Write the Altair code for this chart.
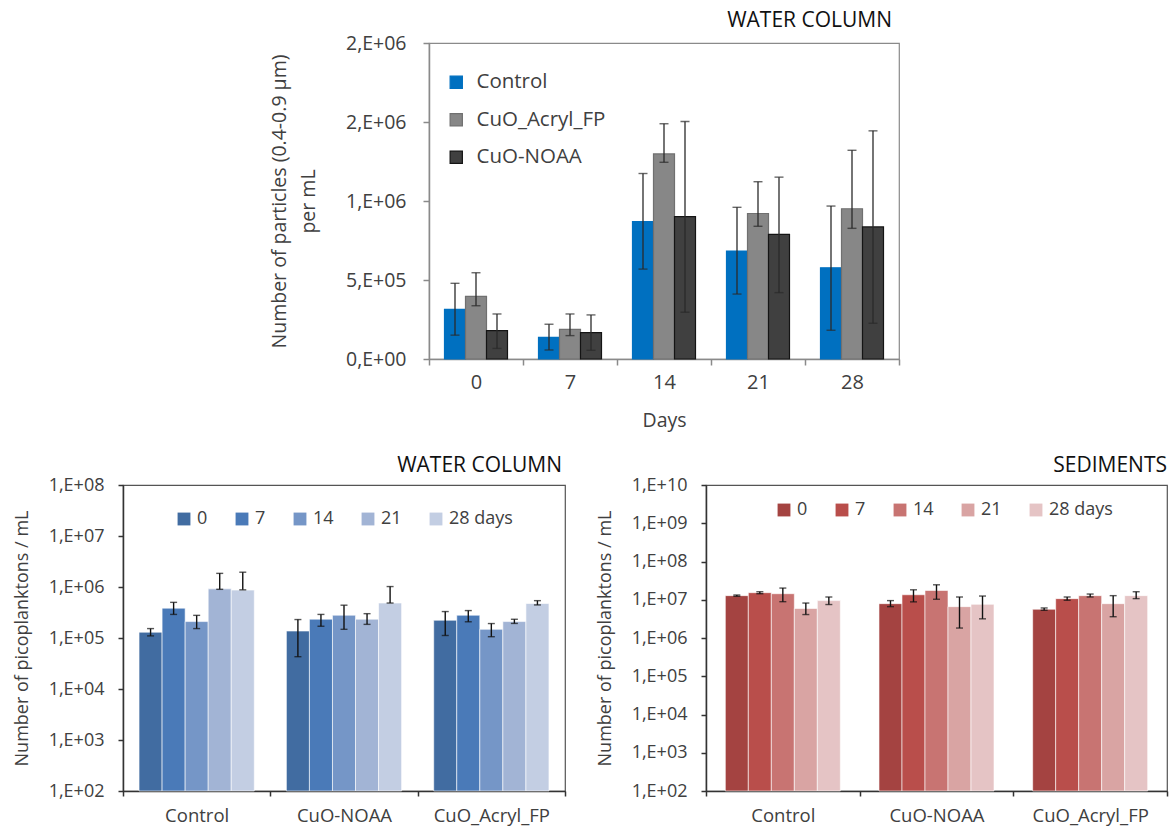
import altair as alt
import pandas as pd

FONT = "Open Sans"
TXT = "#404040"
AX = "#8a8a8a"

# ---------------- top panel data ----------------
days = ["0", "7", "14", "21", "28"]
top_series = ["Control", "CuO_Acryl_FP", "CuO-NOAA"]
top_fill = ["#0070C0", "#878787", "#404040"]
top_stroke = ["#0070C0", "#707070", "#141414"]

ctrl_val = [3.14e5, 1.37e5, 8.70e5, 6.83e5, 5.77e5]
ctrl_lo = [1.51e5, 0.57e5, 5.69e5, 4.11e5, 1.82e5]
ctrl_hi = [4.79e5, 2.20e5, 1.174e6, 9.60e5, 9.68e5]
acryl_val = [3.96e5, 1.87e5, 1.298e6, 9.21e5, 9.51e5]
acryl_lo = [3.37e5, 1.48e5, 1.245e6, 8.40e5, 8.27e5]
acryl_hi = [5.46e5, 2.85e5, 1.489e6, 1.122e6, 1.321e6]
noaa_val = [1.79e5, 1.67e5, 9.01e5, 7.89e5, 8.36e5]
noaa_lo = [0.67e5, 0.55e5, 2.96e5, 4.20e5, 2.26e5]
noaa_hi = [2.85e5, 2.79e5, 1.503e6, 1.151e6, 1.444e6]

top_ticks = [0, 5e5, 1e6, 1.5e6, 2e6]
top_tick_labels = ["0,E+00", "5,E+05", "1,E+06", "2,E+06", "2,E+06"]

# ---------------- bottom panels data ----------------
groups = ["Control", "CuO-NOAA", "CuO_Acryl_FP"]
day_labels = ["0", "7", "14", "21", "28 days"]
blues = ["#416CA1", "#4A7AB8", "#7596C7", "#A2B4D5", "#C3CEE3"]
reds = ["#A44341", "#B94E4B", "#C87472", "#D9A4A3", "#E5C4C5"]

wc_control_val = [1.30e5, 3.85e5, 2.10e5, 9.20e5, 8.70e5]
wc_control_lo = [1.10e5, 2.90e5, 1.53e5, 9.00e5, 8.80e5]
wc_control_hi = [1.53e5, 5.00e5, 2.78e5, 1.85e6, 1.95e6]
wc_noaa_val = [1.37e5, 2.34e5, 2.80e5, 2.34e5, 4.85e5]
wc_noaa_lo = [4.30e4, 1.70e5, 1.48e5, 1.85e5, 4.85e5]
wc_noaa_hi = [2.30e5, 2.90e5, 4.40e5, 3.00e5, 1.02e6]
wc_acryl_val = [2.23e5, 2.80e5, 1.48e5, 2.10e5, 4.75e5]
wc_acryl_lo = [1.12e5, 2.08e5, 1.06e5, 1.93e5, 4.45e5]
wc_acryl_hi = [3.30e5, 3.45e5, 1.92e5, 2.33e5, 5.40e5]

sed_control_val = [1.28e7, 1.53e7, 1.44e7, 5.90e6, 9.50e6]
sed_control_lo = [1.23e7, 1.44e7, 8.90e6, 4.10e6, 7.50e6]
sed_control_hi = [1.33e7, 1.62e7, 2.02e7, 8.20e6, 1.18e7]
sed_noaa_val = [7.90e6, 1.35e7, 1.75e7, 6.60e6, 7.60e6]
sed_noaa_lo = [6.60e6, 8.80e6, 1.03e7, 1.82e6, 3.17e6]
sed_noaa_hi = [9.50e6, 1.82e7, 2.46e7, 1.18e7, 1.25e7]
sed_acryl_val = [5.65e6, 1.07e7, 1.28e7, 7.90e6, 1.28e7]
sed_acryl_lo = [5.30e6, 9.70e6, 1.18e7, 3.60e6, 1.07e7]
sed_acryl_hi = [6.10e6, 1.18e7, 1.41e7, 1.28e7, 1.62e7]

wc_ticks = [1e2, 1e3, 1e4, 1e5, 1e6, 1e7, 1e8]
wc_tick_labels = ["1,E+02", "1,E+03", "1,E+04", "1,E+05", "1,E+06", "1,E+07", "1,E+08"]
sed_ticks = [1e2, 1e3, 1e4, 1e5, 1e6, 1e7, 1e8, 1e9, 1e10]
sed_tick_labels = ["1,E+02", "1,E+03", "1,E+04", "1,E+05", "1,E+06", "1,E+07",
                   "1,E+08", "1,E+09", "1,E+10"]


def label_expr(values, labels):
    expr = "''"
    for v, l in reversed(list(zip(values, labels))):
        expr = f"abs(datum.value - {float(v)!r}) < {max(float(v), 1.0) * 1e-6!r} ? '{l}' : ({expr})"
    return expr


# ---------------- top panel ----------------
top_rows = []
for s, vals, los, his in [
    ("Control", ctrl_val, ctrl_lo, ctrl_hi),
    ("CuO_Acryl_FP", acryl_val, acryl_lo, acryl_hi),
    ("CuO-NOAA", noaa_val, noaa_lo, noaa_hi),
]:
    for d, v, lo, hi in zip(days, vals, los, his):
        top_rows.append({"Day": d, "Treatment": s, "v": v, "lo": lo, "hi": hi})
df_top = pd.DataFrame(top_rows)

tx = alt.X(
    "Day:N", sort=days,
    scale=alt.Scale(paddingInner=0, paddingOuter=0),
    axis=alt.Axis(
        title="Days", labelAngle=0, tickBand="extent", tickSize=6,
        domainColor=AX, tickColor=AX, domainWidth=1.5, tickWidth=1.5,
        labelFontSize=20, labelPadding=7, labelColor=TXT,
        titleFontSize=19.5, titleFontWeight="normal", titleColor=TXT, titlePadding=19,
    ),
)
txo = alt.XOffset("Treatment:N", sort=top_series,
                  scale=alt.Scale(paddingInner=0, paddingOuter=0.738))
ty_axis = alt.Axis(
    values=top_ticks, labelExpr=label_expr(top_ticks, top_tick_labels),
    grid=False, tickSize=6, domainColor=AX, tickColor=AX, domainWidth=1.5, tickWidth=1.5,
    labelFontSize=19.5, labelPadding=17, labelColor=TXT,
    title=["Number of particles (0.4-0.9 µm)", "per mL"],
    titleFontSize=19.5, titleFontWeight="normal", titleColor=TXT,
    titlePadding=27, titleLineHeight=29,
)
top_base = alt.Chart(df_top)
top_bars = top_base.mark_bar(strokeWidth=1.2).encode(
    x=tx, xOffset=txo,
    y=alt.Y("v:Q", scale=alt.Scale(domain=[0, 2e6], nice=False), axis=ty_axis),
    color=alt.Color("Treatment:N", sort=top_series,
                    scale=alt.Scale(domain=top_series, range=top_fill),
                    legend=alt.Legend(
                        title=None, orient="none", legendX=17, legendY=29,
                        direction="vertical", symbolType="square", symbolSize=150,
                        symbolStrokeWidth=1.2,
                        labelFontSize=20.5, labelColor=TXT, labelOffset=10, rowPadding=16.5)),
    stroke=alt.Stroke("Treatment:N", sort=top_series,
                      scale=alt.Scale(domain=top_series, range=top_stroke)),
)
top_err = top_base.mark_rule(color="#2a2a2a", strokeWidth=1.3).encode(
    x=tx, xOffset=txo, y="lo:Q", y2="hi:Q")
top_cap_hi = top_base.mark_tick(color="#2a2a2a", size=9, thickness=1.4).encode(
    x=tx, xOffset=txo, y="hi:Q")
top_cap_lo = top_base.mark_tick(color="#2a2a2a", size=9, thickness=1.4).encode(
    x=tx, xOffset=txo, y="lo:Q")
top = alt.layer(top_bars, top_err, top_cap_hi, top_cap_lo).properties(
    width=470, height=316,
    title=alt.TitleParams("WATER COLUMN", anchor="end", frame="group", fontSize=21,
                          fontWeight="normal", font=FONT, color="#111111",
                          offset=2, dx=-7),
    view=alt.ViewBackground(stroke=AX, strokeWidth=1.2),
)

spacer = alt.Chart(pd.DataFrame({"s": [0]})).mark_point(opacity=0).properties(
    width=296, height=10)


# ---------------- bottom panels ----------------
def bottom_panel(series_field, colors, ticks, tick_labels, dom, groups_data, title,
                 title_dx, legend_x, legend_y, width, height, pad_outer):
    rows = []
    for g, vals, los, his in groups_data:
        for d, v, lo, hi in zip(day_labels, vals, los, his):
            rows.append({"Group": g, series_field: d, "v": v, "lo": lo, "hi": hi,
                         "base": dom[0]})
    df = pd.DataFrame(rows)
    x = alt.X(
        "Group:N", sort=groups,
        scale=alt.Scale(paddingInner=0, paddingOuter=0),
        axis=alt.Axis(
            title=None, labelAngle=0, tickBand="extent", tickSize=5,
            domainColor="#333333", tickColor="#333333", domainWidth=1.5, tickWidth=1.5,
            labelFontSize=18.5, labelPadding=10, labelColor=TXT,
        ),
    )
    xo = alt.XOffset(f"{series_field}:N", sort=day_labels,
                     scale=alt.Scale(paddingInner=0, paddingOuter=pad_outer))
    y_axis = alt.Axis(
        values=ticks, labelExpr=label_expr(ticks, tick_labels),
        grid=False, tickSize=5, domainColor="#333333", tickColor="#333333",
        domainWidth=1.5, tickWidth=1.5,
        labelFontSize=18, labelPadding=14, labelColor=TXT,
        title="Number of picoplanktons / mL", titleFontSize=18,
        titleFontWeight="normal", titleColor=TXT, titlePadding=17,
    )
    base = alt.Chart(df)
    bars = base.mark_bar(stroke="white", strokeWidth=0.6).encode(
        x=x, xOffset=xo,
        y=alt.Y("v:Q", scale=alt.Scale(type="log", domain=dom, nice=False), axis=y_axis),
        y2="base:Q",
        color=alt.Color(f"{series_field}:N", sort=day_labels,
                        scale=alt.Scale(domain=day_labels, range=colors),
                        legend=alt.Legend(
                            title=None, orient="none", legendX=legend_x, legendY=legend_y,
                            direction="horizontal", symbolType="square", symbolSize=165,
                            symbolStrokeWidth=0, labelFontSize=18, labelColor=TXT,
                            labelOffset=4, columnPadding=25)),
    )
    err = base.mark_rule(color="#111111", strokeWidth=1.4).encode(
        x=x, xOffset=xo, y="lo:Q", y2="hi:Q")
    cap_hi = base.mark_tick(color="#111111", size=7, thickness=1.4).encode(
        x=x, xOffset=xo, y="hi:Q")
    cap_lo = base.mark_tick(color="#111111", size=7, thickness=1.4).encode(
        x=x, xOffset=xo, y="lo:Q")
    return alt.layer(bars, err, cap_hi, cap_lo).properties(
        width=width, height=height,
        title=alt.TitleParams(title, anchor="end", frame="group", fontSize=21,
                              fontWeight="normal", font=FONT, color="#111111",
                              offset=0, dx=title_dx),
        view=alt.ViewBackground(stroke="#555555", strokeWidth=1.2),
    )


left = bottom_panel(
    "DayW", blues, wc_ticks, wc_tick_labels, [1e2, 1e8],
    [("Control", wc_control_val, wc_control_lo, wc_control_hi),
     ("CuO-NOAA", wc_noaa_val, wc_noaa_lo, wc_noaa_hi),
     ("CuO_Acryl_FP", wc_acryl_val, wc_acryl_lo, wc_acryl_hi)],
    "WATER COLUMN", -3, 52, 25, 442, 306, 0.696)
right = bottom_panel(
    "DayS", reds, sed_ticks, sed_tick_labels, [1e2, 1e10],
    [("Control", sed_control_val, sed_control_lo, sed_control_hi),
     ("CuO-NOAA", sed_noaa_val, sed_noaa_lo, sed_noaa_hi),
     ("CuO_Acryl_FP", sed_acryl_val, sed_acryl_lo, sed_acryl_hi)],
    "SEDIMENTS", 0, 69, 16, 461, 306, 0.84)

res = dict(x="independent", y="independent", color="independent",
           stroke="independent", xOffset="independent")
row1 = alt.hconcat(spacer, top, spacing=10, bounds="flush").resolve_scale(**res)
row2 = alt.hconcat(left, right, spacing=141, bounds="flush").resolve_scale(**res)
chart = alt.vconcat(row1, row2, spacing=23).resolve_scale(**res).properties(
    padding={"left": 12, "top": 9, "right": 0, "bottom": 0},
).configure(font=FONT).configure_view(stroke="transparent")

chart.save("out.html", embed_options={"renderer": "svg", "actions": False})
